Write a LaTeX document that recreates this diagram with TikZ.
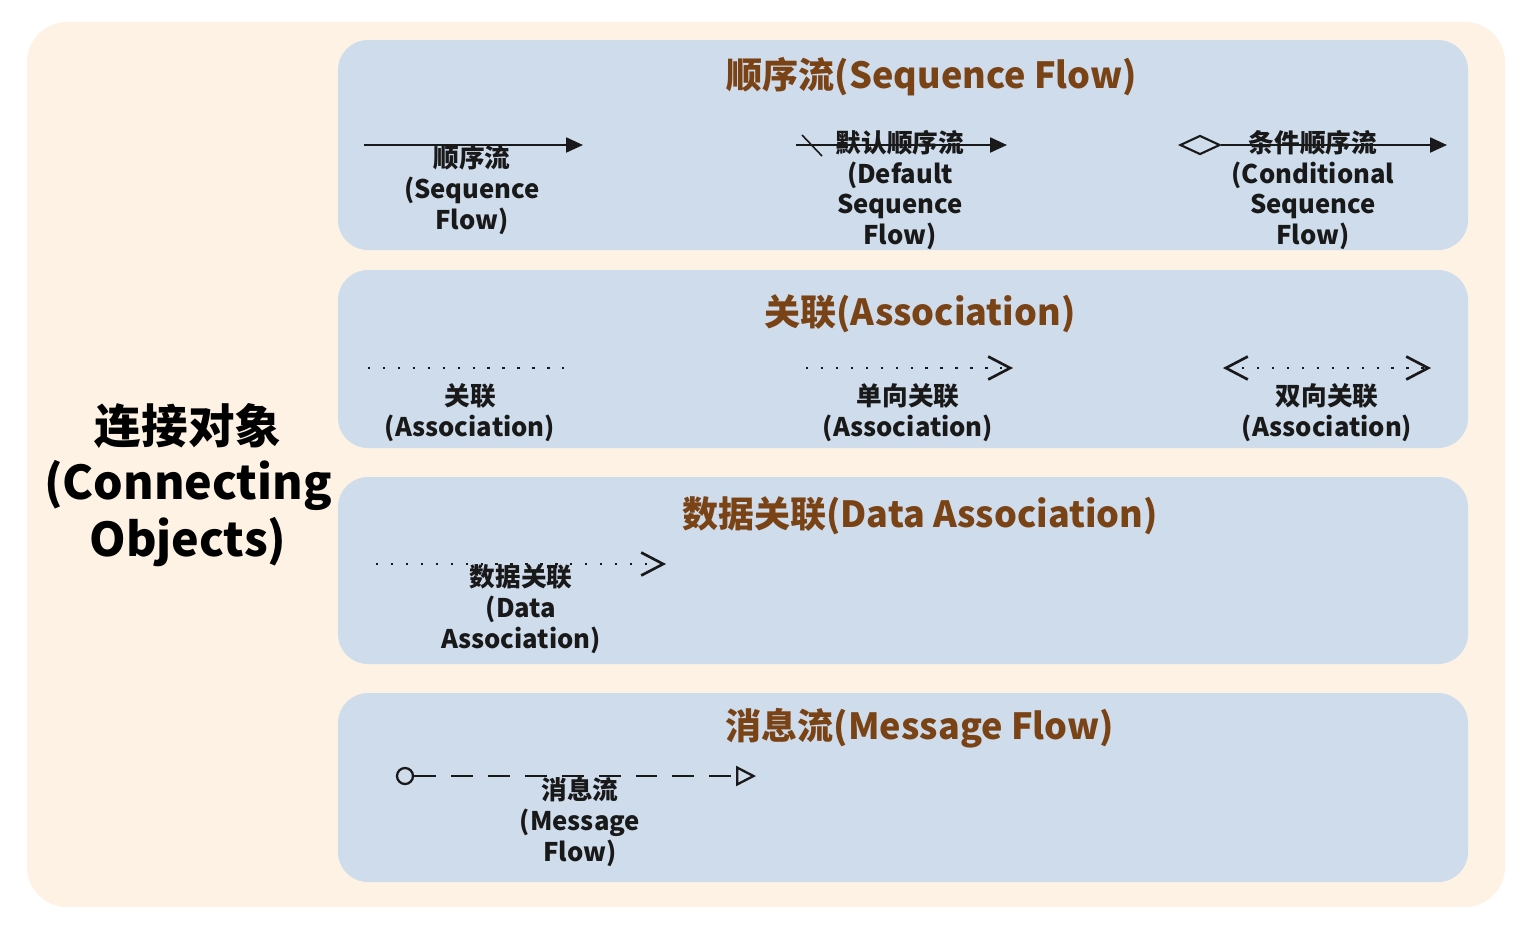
\documentclass[tikz,border=0pt]{standalone}
\usepackage{fontspec}
\setmainfont{Noto Sans CJK SC}
\usetikzlibrary{arrows.meta,shapes.geometric}
\definecolor{peach}{HTML}{FEF2E5}
\definecolor{panelblue}{HTML}{CEDCEC}
\definecolor{titlebrown}{HTML}{7A4316}
\tikzset{
  panel/.style={fill=panelblue, draw=none, rounded corners=0.6cm},
  ptitle/.style={text=titlebrown, font=\fontsize{20.5}{24}\selectfont\bfseries, inner sep=0pt},
  lab/.style={align=center, font=\fontsize{14.6}{17.6}\selectfont\bfseries, inner sep=0pt, text=black!90},
  conn/.style={line width=1.2pt, black!90},
  dotline/.style={conn, line width=1.6pt, dash pattern=on 1.3pt off 7.2pt},
  dashline/.style={conn, dash pattern=on 12.5pt off 8.5pt},
  seqtip/.style={-{Triangle[length=0.34cm,width=0.3cm]}},
  barbtip/.tip={Straight Barb[length=0.44cm,width=0.46cm,line width=1.5pt]},
}
\begin{document}
\begin{tikzpicture}[x=0.02cm,y=-0.02cm]
\useasboundingbox (0,0) rectangle (1520,924);
\fill[peach, rounded corners=0.8cm] (27,22) rectangle (1505,907);
\fill[panel] (338,40) rectangle (1468,250);
\fill[panel] (338,270) rectangle (1468,448);
\fill[panel] (338,477) rectangle (1468,664);
\fill[panel] (338,693) rectangle (1468,882);

\node[font=\fontsize{26.5}{32}\selectfont\bfseries, align=center, inner sep=0pt] (main) at (188,485) {连接对象\\(Connecting\\Objects)};

\node[ptitle] (t1) at (932,77) {顺序流(Sequence Flow)};
\node[ptitle] (t2) at (920,314) {关联(Association)};
\node[ptitle] (t3) at (920,516) {数据关联(Data Association)};
\node[ptitle] (t4) at (920,728) {消息流(Message Flow)};

% sequence flow
\coordinate (s1a) at (364,145); \coordinate (s1b) at (583,145);
\draw[conn, seqtip] (s1a) -- (s1b);
\node[lab] (l1) at (472,190) {顺序流\\(Sequence\\Flow)};

\coordinate (s2a) at (796,145); \coordinate (s2b) at (1007,145);
\coordinate (sl1) at (802,135); \coordinate (sl2) at (822,156);
\draw[conn, seqtip] (s2a) -- (s2b);
\draw[conn, line width=0.9pt] (sl1) -- (sl2);
\node[lab] (l2) at (900,190) {默认顺序流\\(Default\\Sequence\\Flow)};

\node[diamond, draw=black!90, line width=1.2pt, fill=panelblue, minimum width=0.8cm, minimum height=0.38cm, inner sep=0pt] (dia) at (1200,145) {};
\coordinate (s3b) at (1447,145);
\draw[conn, seqtip] (dia.east) -- (s3b);
\node[lab] (l3) at (1313,190) {条件顺序流\\(Conditional\\Sequence\\Flow)};

% association
\coordinate (a1a) at (368,368); \coordinate (a1b) at (574,368);
\draw[dotline] (a1a) -- (a1b);
\node[lab] (l4) at (470,413) {关联\\(Association)};

\coordinate (a2a) at (806,368); \coordinate (a2b) at (1013,368);
\draw[dotline, -barbtip] (a2a) -- (a2b);
\node[lab] (l5) at (908,413) {单向关联\\(Association)};

\coordinate (a3a) at (1223,368); \coordinate (a3b) at (1431,368);
\draw[dotline, barbtip-barbtip] (a3a) -- (a3b);
\node[lab] (l6) at (1327,413) {双向关联\\(Association)};

% data association
\coordinate (d1a) at (376,564); \coordinate (d1b) at (666,564);
\draw[dotline, -barbtip] (d1a) -- (d1b);
\node[lab] (l7) at (521,609) {数据关联\\(Data\\Association)};

% message flow
\coordinate (m1a) at (405,776); \coordinate (m1b) at (756,776);
\node[circle, draw=black!90, line width=1.3pt, minimum size=0.32cm, inner sep=0pt] (mc) at (m1a) {};
\draw[dashline, -{Triangle[open,length=0.4cm,width=0.4cm,fill=panelblue,line width=1.3pt]}] (mc.east) -- (m1b);
\node[lab] (l8) at (580,822) {消息流\\(Message\\Flow)};
\end{tikzpicture}
\end{document}
